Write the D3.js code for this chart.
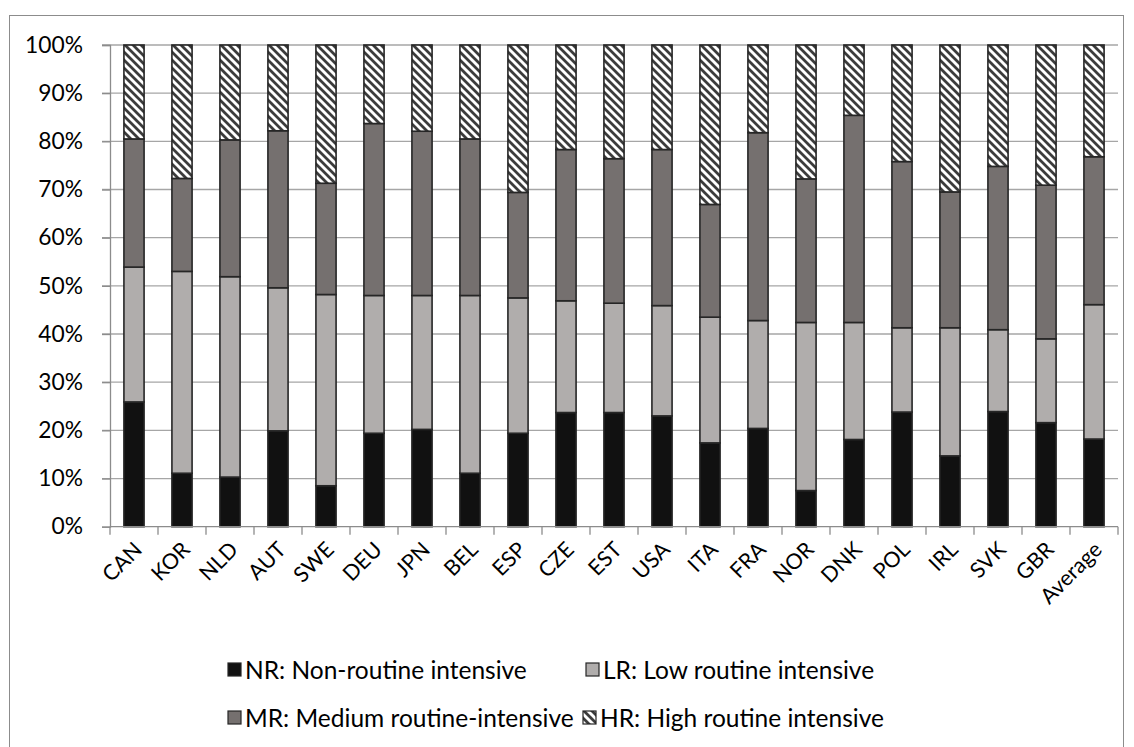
<!DOCTYPE html>
<html>
<head>
<meta charset="utf-8">
<script src="https://cdn.jsdelivr.net/npm/d3@7"></script>
<style>
  html, body { margin: 0; padding: 0; background: #ffffff; }
  svg { display: block; }
  text { font-family: Lato, "Open Sans", "Liberation Sans", sans-serif; fill: #000; }
</style>
</head>
<body>
<svg id="chart" width="1134" height="747"></svg>
<script>
// ---- Data (percent shares) ----
const categories = ["CAN","KOR","NLD","AUT","SWE","DEU","JPN","BEL","ESP","CZE","EST","USA","ITA","FRA","NOR","DNK","POL","IRL","SVK","GBR","Average"];
const nrValues = [25.9, 11.1, 10.3, 19.9, 8.5, 19.4, 20.2, 11.1, 19.4, 23.7, 23.7, 23.0, 17.4, 20.4, 7.5, 18.1, 23.8, 14.7, 23.9, 21.6, 18.2];
const lrValues = [28.0, 41.9, 41.6, 29.7, 39.7, 28.6, 27.8, 36.9, 28.1, 23.2, 22.7, 22.9, 26.1, 22.4, 34.9, 24.3, 17.5, 26.6, 17.0, 17.4, 27.9];
const mrValues = [26.6, 19.3, 28.4, 32.6, 23.1, 35.7, 34.1, 32.5, 21.9, 31.4, 30.0, 32.4, 23.4, 39.0, 29.8, 43.0, 34.5, 28.2, 33.9, 31.9, 30.7];
const hrValues = [19.5, 27.7, 19.7, 17.8, 28.7, 16.3, 17.9, 19.5, 30.6, 21.7, 23.6, 21.7, 33.1, 18.2, 27.8, 14.6, 24.2, 30.5, 25.2, 29.1, 23.2];
const seriesKeys = ["NR","LR","MR","HR"];
const seriesLabels = ["NR: Non-routine intensive","LR: Low routine intensive","MR: Medium routine-intensive","HR: High routine intensive"];
const yTicks = [0,10,20,30,40,50,60,70,80,90,100];

// ---- Build table for stack ----
const table = categories.map((c, i) => ({
  cat: c, NR: nrValues[i], LR: lrValues[i], MR: mrValues[i], HR: hrValues[i]
}));
const stacked = d3.stack().keys(seriesKeys)(table);

const svg = d3.select("#chart");

// hatch pattern
const defs = svg.append("defs");
const pat = defs.append("pattern")
  .attr("id", "hatch").attr("patternUnits", "userSpaceOnUse")
  .attr("width", 8).attr("height", 8);
pat.append("rect").attr("width", 8).attr("height", 8).attr("fill", "#ffffff");
pat.append("path")
  .attr("d", "M-2,-2 L10,10 M-2,6 L2,10 M6,-2 L10,2")
  .attr("stroke", "#3c3c3c").attr("stroke-width", 2.8);

const fills = { NR: "#111111", LR: "#b0adac", MR: "#75706f", HR: "url(#hatch)" };

// outer frame
svg.append("rect")
  .attr("x", 9.5).attr("y", 15.5).attr("width", 1114).attr("height", 760)
  .attr("fill", "none").attr("stroke", "#8c8c8c").attr("stroke-width", 1);

const plot = { left: 110, right: 1118, top: 45, bottom: 526.7 };

const x = d3.scaleBand().domain(categories)
  .range([plot.left, plot.right]).paddingInner(0.58).paddingOuter(0.29);
const y = d3.scaleLinear().domain([0, 100]).range([plot.bottom, plot.top]);

// gridlines
svg.append("g").selectAll("line").data(yTicks.filter(t => t > 0)).join("line")
  .attr("x1", plot.left - 8).attr("x2", plot.right)
  .attr("y1", d => y(d)).attr("y2", d => y(d))
  .attr("stroke", "#a6a6a6").attr("stroke-width", 1.3);

// y axis
const yAxis = d3.axisLeft(y).tickValues(yTicks).tickSize(8).tickFormat(d => d + "%");
const gy = svg.append("g").attr("transform", `translate(${plot.left},0)`).call(yAxis);
gy.select(".domain").attr("stroke", "#8c8c8c").attr("stroke-width", 1.3);
gy.selectAll(".tick line").attr("stroke", "#8c8c8c").attr("stroke-width", 1.3);
gy.selectAll(".tick text")
  .attr("x", -27).attr("font-size", 22.8).attr("font-family", "Lato, sans-serif").attr("fill", "#000");

// bars
svg.append("g").selectAll("g").data(stacked).join("g")
  .attr("fill", d => fills[d.key])
  .selectAll("rect").data(d => d).join("rect")
  .attr("x", d => x(d.data.cat))
  .attr("width", x.bandwidth())
  .attr("y", d => y(d[1]))
  .attr("height", d => y(d[0]) - y(d[1]))
  .attr("stroke", "#262626").attr("stroke-width", 1.6);

// x axis
const step = x.step();
const gx = svg.append("g").attr("transform", `translate(0,${plot.bottom})`);
gx.append("line").attr("x1", plot.left).attr("x2", plot.right)
  .attr("y1", 0).attr("y2", 0).attr("stroke", "#8c8c8c").attr("stroke-width", 1.3);
gx.selectAll("line.tk").data(d3.range(categories.length + 1)).join("line")
  .attr("class", "tk")
  .attr("x1", i => plot.left + i * step).attr("x2", i => plot.left + i * step)
  .attr("y1", 0).attr("y2", 8).attr("stroke", "#8c8c8c").attr("stroke-width", 1.3);
gx.selectAll("text").data(categories).join("text")
  .attr("transform", d => `translate(${x(d) + x.bandwidth() / 2 + 4},${19}) rotate(-45)`)
  .attr("text-anchor", "end").attr("dy", "0.35em")
  .attr("font-size", 21.5)
  .text(d => d);

// legend
const legendItems = [
  { key: "NR", label: seriesLabels[0], x: 228, y: 670 },
  { key: "LR", label: seriesLabels[1], x: 586, y: 670 },
  { key: "MR", label: seriesLabels[2], x: 228, y: 718 },
  { key: "HR", label: seriesLabels[3], x: 583, y: 718 }
];
const lg = svg.append("g").selectAll("g").data(legendItems).join("g")
  .attr("transform", d => `translate(${d.x},${d.y})`);
lg.append("rect").attr("x", 0).attr("y", -7).attr("width", 13).attr("height", 13)
  .attr("fill", d => fills[d.key]).attr("stroke", "#262626").attr("stroke-width", 1.2);
lg.append("text").attr("x", 17).attr("dy", "0.35em").attr("font-size", 24.5)
  .text(d => d.label);
</script>
</body>
</html>
